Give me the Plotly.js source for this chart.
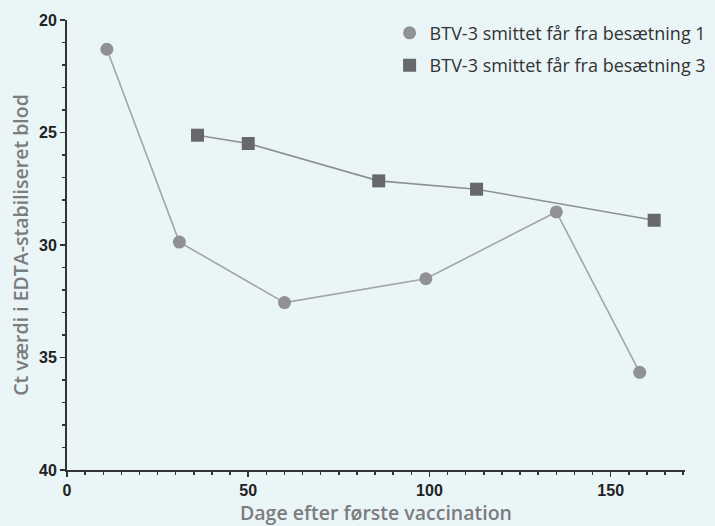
<!DOCTYPE html>
<html>
<head>
<meta charset="utf-8">
<script src="https://cdn.plot.ly/plotly-3.0.1.min.js"></script>
<style>html,body{margin:0;padding:0;background:#eaf5f7;}</style>
</head>
<body>
<div id="chart" style="width:715px;height:526px;"></div>
<script>
const herd1Days = [11, 31, 60, 99, 135, 158];
const herd1Ct = [21.3, 29.87, 32.56, 31.5, 28.53, 35.66];
const herd3Days = [36, 50, 86, 113, 162];
const herd3Ct = [25.12, 25.49, 27.15, 27.52, 28.9];
const seriesNames = ["BTV-3 smittet får fra besætning 1", "BTV-3 smittet får fra besætning 3"];
const xTickVals = [0, 50, 100, 150];
const yTickVals = [20, 25, 30, 35, 40];

const traces = [
  {
    x: herd1Days, y: herd1Ct, type: 'scatter', mode: 'lines', showlegend: false,
    line: {color: '#a3a5a8', width: 1.6}, hoverinfo: 'skip'
  },
  {
    x: herd3Days, y: herd3Ct, type: 'scatter', mode: 'lines', showlegend: false,
    line: {color: '#8e9093', width: 1.6}, hoverinfo: 'skip'
  },
  {
    x: herd1Days, y: herd1Ct, name: seriesNames[0], type: 'scatter', mode: 'markers', legendgroup: 'g1',
    marker: {symbol: 'circle', size: 13, color: '#8f9197'}
  },
  {
    x: herd3Days, y: herd3Ct, name: seriesNames[1], type: 'scatter', mode: 'markers', legendgroup: 'g3',
    marker: {symbol: 'square', size: 13, color: '#66686b'}
  }
];

const tickFont = {family: 'Liberation Sans Narrow, Arial Narrow, sans-serif', size: 16, color: '#222', weight: 'bold'};
const titleFont = {family: 'Open Sans, sans-serif', size: 19.5, color: '#7b7c7e', weight: 600};

const layout = {
  width: 715, height: 526,
  paper_bgcolor: '#eaf5f7', plot_bgcolor: '#eaf5f7',
  margin: {l: 67, r: 30, t: 20, b: 56, autoexpand: false},
  showlegend: true,
  legend: {x: 0.522, y: 1.012, xanchor: 'left', yanchor: 'top', bgcolor: 'rgba(0,0,0,0)',
    traceorder: 'grouped', tracegroupgap: 6,
    font: {family: 'Open Sans, sans-serif', size: 18, color: '#333'}},
  xaxis: {
    range: [0, 170.5], tickvals: xTickVals, ticks: 'outside', ticklen: 5, tickwidth: 1.5, tickcolor: '#333',
    showline: true, linecolor: '#333', linewidth: 2, showgrid: false, zeroline: false,
    minor: {dtick: 5, ticks: 'outside', ticklen: 3, tickwidth: 1.5, tickcolor: '#333', showgrid: false},
    tickfont: tickFont,
    title: {text: 'Dage efter første vaccination', font: titleFont, standoff: 11}
  },
  yaxis: {
    range: [40, 20], tickvals: yTickVals, ticks: 'outside', ticklen: 5, tickwidth: 1.5, tickcolor: '#333',
    showline: true, linecolor: '#333', linewidth: 2, showgrid: false, zeroline: false,
    minor: {dtick: 1, ticks: 'outside', ticklen: 3, tickwidth: 1.5, tickcolor: '#333', showgrid: false},
    tickfont: tickFont,
    title: {text: 'Ct værdi i EDTA-stabiliseret blod', font: titleFont, standoff: 5}
  }
};

Plotly.newPlot('chart', traces, layout, {displayModeBar: false, staticPlot: true});
</script>
</body>
</html>
